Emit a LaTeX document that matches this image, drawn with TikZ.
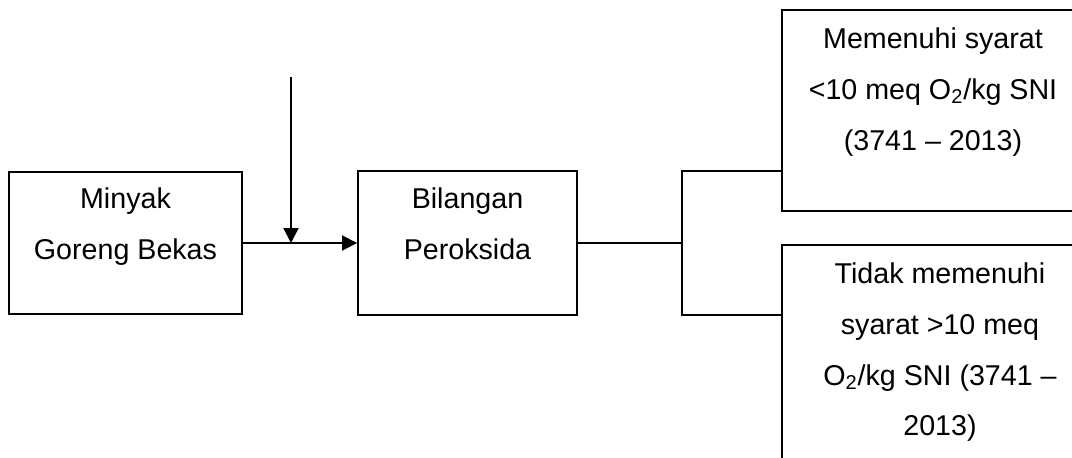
\documentclass[tikz,border=0pt]{standalone}
\usepackage{fontspec}
\setmainfont{Liberation Sans}
\usetikzlibrary{arrows.meta}

\tikzset{
  kotak/.style={draw, rectangle, line width=1.1pt, inner sep=0pt},
  isi/.style={align=center, inner sep=0pt, anchor=north,
    font=\fontsize{16.3}{29}\selectfont},
  panah/.style={line width=1.1pt, -{Triangle[length=0.3cm,width=0.3cm]}},
  garis/.style={line width=1.1pt}
}

\begin{document}
\begin{tikzpicture}[x=0.02cm, y=-0.02cm]
    \useasboundingbox (0,0) rectangle (1072,457);
    \clip (0,0) rectangle (1072,457);
    % boxes
    \begin{scope}[every node/.style={kotak}]
      \node[minimum width=4.66cm, minimum height=2.84cm] (a) at (125.5,243) {};
      \node[minimum width=4.38cm, minimum height=2.88cm] (b) at (467.5,243) {};
      \node[minimum width=6.04cm, minimum height=4.02cm] (c) at (933,110.5) {};
      \node[minimum width=6.40cm, minimum height=4.70cm] (d) at (942,362.5) {};
    \end{scope}
    % texts
    \node[isi] (ta) at (125.5,187) {Minyak\\Goreng Bekas};
    \node[isi] (tb) at (467.5,187) {Bilangan\\Peroksida};
    \node[isi] (tc) at (933,27) {Memenuhi syarat\\<10 meq O\textsubscript{2}/kg SNI\\(3741 – 2013)};
    \node[isi] (td) at (940,262) {Tidak memenuhi\\syarat >10 meq\\O\textsubscript{2}/kg SNI (3741 –\\2013)};
    % connectors
    \coordinate (atas) at (291,77);
    \coordinate (ju) at (682,171);
    \coordinate (jd) at (682,315);
    \draw[panah] (a.east) -- (b.west);
    \draw[panah] (atas) -- (atas |- a.east);
    \draw[garis] (b.east) -- (b.east -| ju);
    \draw[garis] (c.west |- ju) -- (ju) -- (jd) -- (d.west |- jd);
\end{tikzpicture}
\end{document}
